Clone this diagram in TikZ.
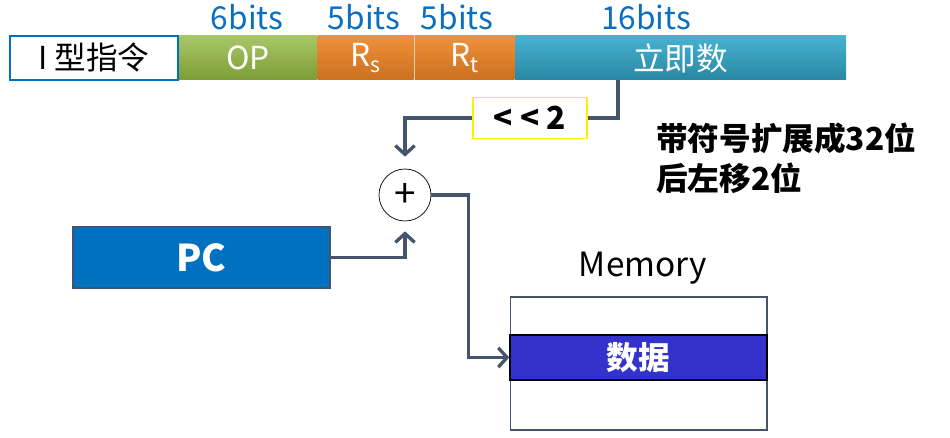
\documentclass[tikz,border=0pt]{standalone}
\usepackage{fontspec}
\setmainfont{Noto Sans CJK SC}
\usetikzlibrary{positioning,arrows.meta}
\definecolor{opgreen}{HTML}{92B840}
\definecolor{regorange}{HTML}{EE8424}
\definecolor{immblue}{HTML}{33A9CC}
\definecolor{bitblue}{HTML}{0A6FC2}
\definecolor{wire}{HTML}{44546A}
\definecolor{pcblue}{HTML}{0070C0}
\definecolor{datablue}{HTML}{3333CC}
\newcommand{\sub}[1]{\raisebox{-0.4ex}{\fontsize{12}{12}\selectfont #1}}

\begin{document}
\begin{tikzpicture}[x=0.02cm,y=-0.02cm,
    field/.style={minimum height=0.88cm,inner sep=0pt,text=white,
      font=\fontsize{18}{18}\selectfont},
    bitlabel/.style={text=bitblue,font=\fontsize{18}{18}\selectfont},
    conn/.style={draw=wire,line width=1.9pt},
    tip/.style={-{Straight Barb[length=5pt,width=11pt,line width=1.9pt]}}]
  \useasboundingbox (0,0) rectangle (950,438);
  \node (itype) [field,draw=pcblue,line width=0.8pt,fill=white,text=black,
    minimum width=3.36cm] at (94,58) {I 型指令};
  \node (op) [field,right=0pt of itype,minimum width=2.76cm,
    top color=opgreen!80!white,bottom color=opgreen!85!black] {OP};
  \node (rs) [field,right=0pt of op,minimum width=1.92cm,
    top color=regorange!90!white,bottom color=regorange!85!black] {R\sub{s}};
  \node (rt) [field,right=0pt of rs,minimum width=2.0cm,
    top color=regorange!90!white,bottom color=regorange!85!black] {R\sub{t}};
  \node (imm) [field,right=0pt of rt,minimum width=6.62cm,
    top color=immblue!90!white,bottom color=immblue!80!black] {立即数};
  \draw[white!60!regorange,line width=0.4pt] (rs.north east) -- (rs.south east);
  \node (bop) [bitlabel] at (247,17) {6bits};
  \node (brs) [bitlabel] at (364,17) {5bits};
  \node (brt) [bitlabel] at (457,17) {5bits};
  \node (bimm) [bitlabel] at (646,17) {16bits};
  \node (shift) [draw=yellow,line width=1pt,minimum width=2.28cm,
    minimum height=0.82cm,font=\bfseries\fontsize{18}{18}\selectfont] at (530,118) {< < 2};
  \node (sum) [draw,circle,minimum size=1.04cm,inner sep=0pt,
    font=\fontsize{22}{22}\selectfont] at (405,195) {+};
  \node (pc) [draw=wire,line width=0.6pt,fill=pcblue,text=white,
    minimum width=5.14cm,minimum height=1.22cm,
    font=\bfseries\fontsize{21}{21}\selectfont] at (201.5,257.5) {PC};
  \node (mem) [draw=wire,line width=0.6pt,minimum width=5.14cm,
    minimum height=2.66cm] at (638.5,363.5) {};
  \node (data) [draw=black,line width=0.8pt,fill=datablue,text=white,
    minimum width=5.14cm,minimum height=0.9cm,
    font=\bfseries\fontsize{18}{18}\selectfont] at (638.5,357.5) {数据};
  \node (memlabel) [font=\fontsize{19}{19}\selectfont] at (643,268) {Memory};
  \node (note) [anchor=west,align=left,font=\bfseries\fontsize{18}{23}\selectfont]
    at (650,158) {带符号扩展成32位\\后左移2位};
  \draw[conn] ([xshift=-1.25cm]imm.south) |- (shift.east);
  \draw[conn,tip,shorten >=0.24cm] (shift.west) -| (sum.north);
  \draw[conn,tip,shorten >=0.2cm] (pc.east) -| (sum.south);
  \draw[conn,tip] (sum.east) -- ++(37,0) |- (data.west);
\end{tikzpicture}
\end{document}
